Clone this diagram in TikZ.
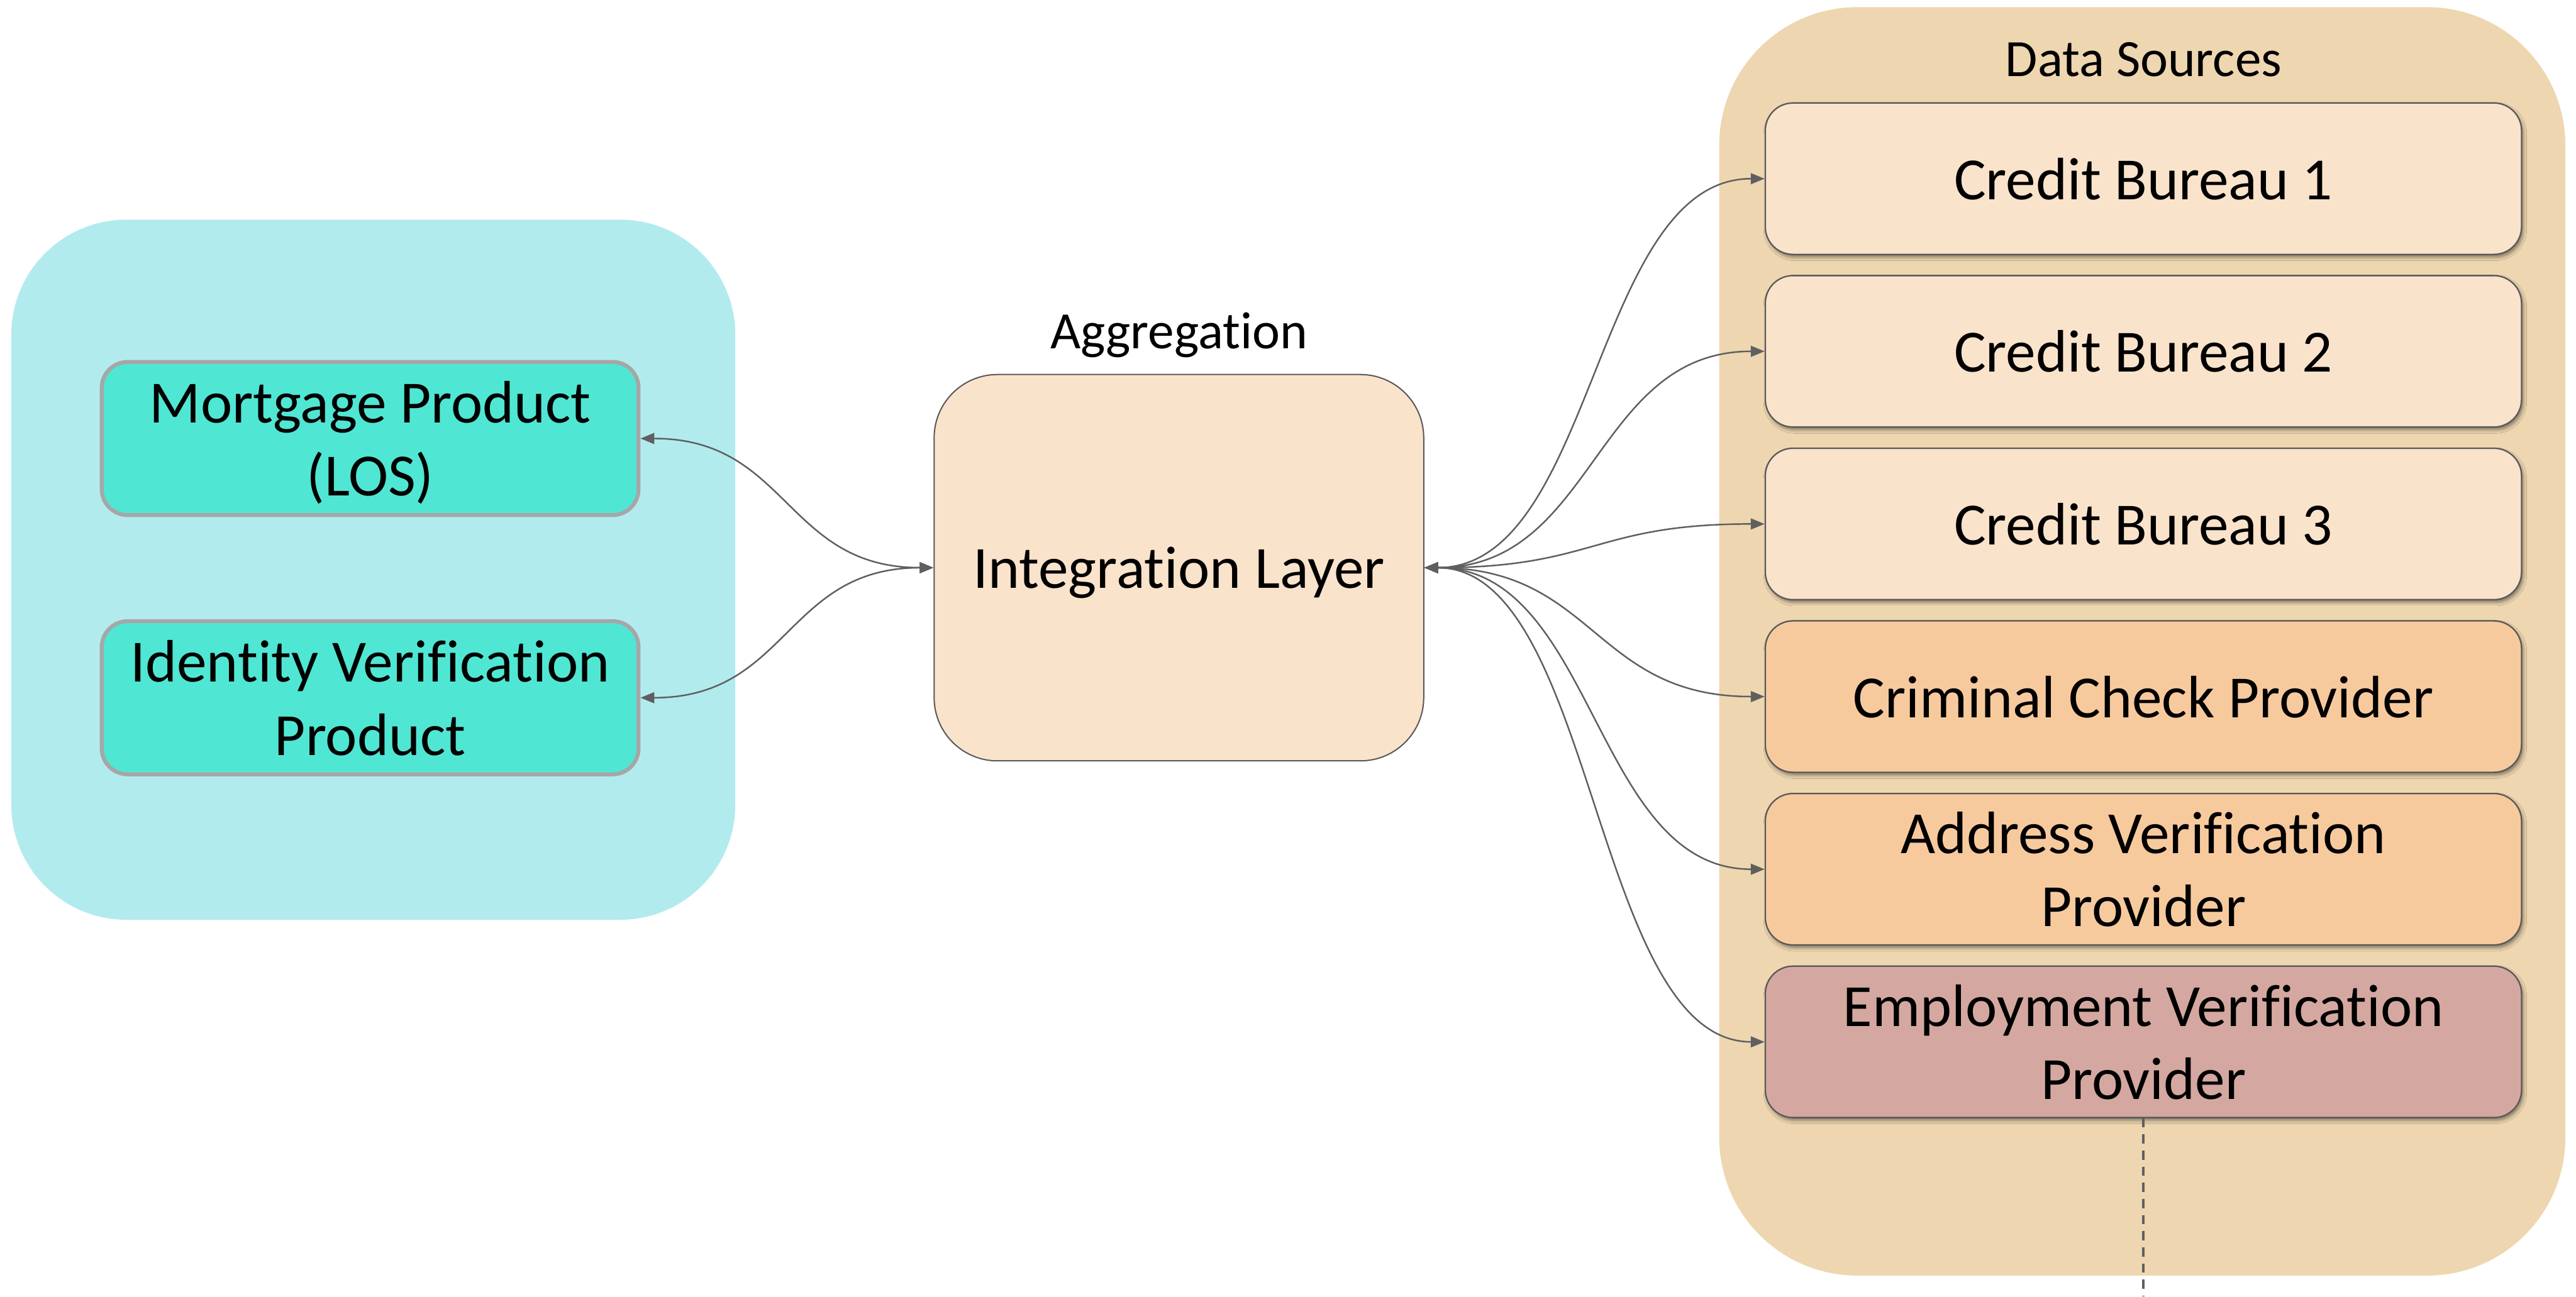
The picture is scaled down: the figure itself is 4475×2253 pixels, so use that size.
\documentclass[tikz,border=0pt]{standalone}
\usepackage{fontspec}
\setmainfont{Carlito}[Ligatures=NoCommon]
\usetikzlibrary{arrows.meta,shadows.blur}

\definecolor{panelcyan}{HTML}{B2EBEE}
\definecolor{prodfill}{HTML}{50E6D4}
\definecolor{prodborder}{HTML}{A6A6A6}
\definecolor{paneltan}{HTML}{EED6B0}
\definecolor{peach}{HTML}{FAE3CB}
\definecolor{apricot}{HTML}{F7CA9E}
\definecolor{dustyrose}{HTML}{D4A8A0}
\definecolor{edgegrey}{HTML}{595959}
\definecolor{wiregrey}{HTML}{5F5F5F}

\newcommand\dsbody{\fontsize{29.6pt}{36.1pt}\selectfont}
\newcommand\dstitle{\fontsize{25.9pt}{31.6pt}\selectfont}

\tikzset{
  grouppanel/.style={draw=none, inner sep=0pt},
  productbox/.style={draw=prodborder, line width=0.068cm, fill=prodfill,
    rounded corners=0.45cm, minimum width=9.32cm, minimum height=2.66cm,
    align=center, font=\dsbody, inner sep=0pt, text depth=0pt},
  hubbox/.style={draw=edgegrey, line width=0.022cm, fill=peach,
    rounded corners=1.1cm, minimum width=8.5cm, minimum height=6.71cm,
    font=\dsbody, inner sep=0pt, text depth=0pt},
  sourcebox/.style={draw=edgegrey, line width=0.025cm,
    rounded corners=0.48cm, minimum width=13.13cm, minimum height=2.63cm,
    align=center, font=\dsbody, inner sep=0pt, text depth=0pt,
    blur shadow={shadow xshift=0.03cm, shadow yshift=-0.05cm,
      shadow blur radius=0.06cm, shadow opacity=45}},
  grouptitle/.style={font=\dstitle, anchor=base, inner sep=0pt},
  link/.style={draw=wiregrey, line width=0.027cm,
    {Triangle[length=0.24cm,width=0.19cm]}-{Triangle[length=0.24cm,width=0.19cm]}},
  dashlink/.style={draw=wiregrey, line width=0.04cm,
    dash pattern=on 0.16cm off 0.12cm},
}

\begin{document}
\begin{tikzpicture}[x=0.01cm, y=-0.01cm]
  \useasboundingbox (0,0) rectangle (4475,2253);

  % group backgrounds
  \node[grouppanel, fill=panelcyan, rounded corners=2cm,
        minimum width=12.57cm, minimum height=12.16cm] (consumers) at (648.5,990) {};
  \node[grouppanel, fill=paneltan, rounded corners=2.4cm,
        minimum width=14.69cm, minimum height=22.03cm] (sources) at (3721.5,1114.5) {};

  % group titles
  \node[grouptitle] (aggtitle) at (2048,606) {Aggregation};
  \node[grouptitle] (srctitle) at (3724,133) {Data Sources};

  % consuming products
  \node[productbox] (mortgage) at (643,762) {Mortgage Product\\(LOS)};
  \node[productbox] (identity) at (643,1212.5) {Identity Verification\\Product};

  % integration hub
  \node[hubbox] (hub) at (2048,986.5) {Integration Layer};

  % data providers
  \node[sourcebox, fill=peach]     (cb1)  at (3723.5,310.5)  {Credit Bureau 1};
  \node[sourcebox, fill=peach]     (cb2)  at (3723.5,610.5)  {Credit Bureau 2};
  \node[sourcebox, fill=peach]     (cb3)  at (3723.5,910.5)  {Credit Bureau 3};
  \node[sourcebox, fill=apricot]   (crim) at (3723.5,1210.5) {Criminal Check Provider};
  \node[sourcebox, fill=apricot]   (addr) at (3723.5,1510.5) {Address Verification\\Provider};
  \node[sourcebox, fill=dustyrose] (emp)  at (3723.5,1810.5) {Employment Verification\\Provider};

  % hub to products
  \draw[link] (hub.west) .. controls +(-257,0) and +(257,0) .. (mortgage.east);
  \draw[link] (hub.west) .. controls +(-257,0) and +(257,0) .. (identity.east);

  % hub to providers
  \foreach \src in {cb1,cb2,cb3,crim,addr,emp}
    \draw[link] (hub.east) .. controls +(297,0) and +(-297,0) .. (\src.west);

  % continuation below the employment provider
  \coordinate (empdown) at (3723.5,2253);
  \draw[dashlink] (emp.south) -- (empdown);
\end{tikzpicture}
\end{document}
